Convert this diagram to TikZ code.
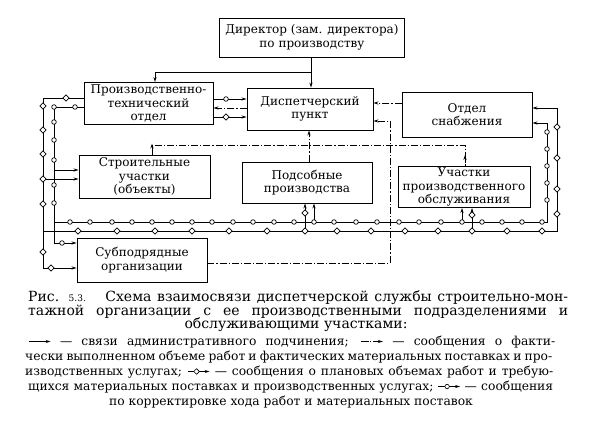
\documentclass[tikz,border=0pt]{standalone}
\usepackage{fontspec}
\setmainfont{DejaVu Serif}
\usetikzlibrary{arrows.meta,calc}
\tikzset{
  box/.style={draw, line width=0.9pt, inner sep=0pt, align=center, font=\fontsize{12}{13.5}\selectfont},
  ln/.style={line width=0.8pt},
  arr/.style={-{Stealth[length=5pt,width=3.2pt]}},
  dd/.style={dash pattern=on 7pt off 2pt on 1.2pt off 2pt},
  mk/.style={line width=0.7pt, fill=white},
  capline/.style={inner sep=0pt, anchor=base west, font=\fontsize{14}{15}\selectfont},
  legline/.style={inner sep=0pt, anchor=base west, font=\fontsize{12.3}{13.5}\selectfont},
}
\newcommand\dmk[2]{\draw[mk] (#1,#2) +(-3.2pt,0pt) -- +(0pt,3.2pt) -- +(3.2pt,0pt) -- +(0pt,-3.2pt) -- cycle;}
\newcommand\cmk[2]{\draw[mk] (#1,#2) circle[radius=2.3pt];}
\newcommand\symA{\tikz[baseline=-3.5pt]{\draw[line width=0.7pt,-{Stealth[length=5pt,width=3pt]}] (0pt,0pt) -- (22pt,0pt);}}
\newcommand\symB{\tikz[baseline=-3.5pt]{\draw[line width=0.7pt,dash pattern=on 8pt off 1.5pt on 1pt off 1.5pt,-{Stealth[length=5pt,width=3pt]}] (0pt,0pt) -- (22pt,0pt);}}
\newcommand\symC{\tikz[baseline=-3.5pt]{\draw[line width=0.7pt,-{Stealth[length=5pt,width=3pt]}] (0pt,0pt) -- (22pt,0pt); \draw[line width=0.6pt,fill=white] (9pt,0pt) +(-2.8pt,0pt) -- +(0pt,2.8pt) -- +(2.8pt,0pt) -- +(0pt,-2.8pt) -- cycle;}}
\newcommand\symD{\tikz[baseline=-3.5pt]{\draw[line width=0.7pt,-{Stealth[length=5pt,width=3pt]}] (0pt,0pt) -- (22pt,0pt); \draw[line width=0.6pt,fill=white] (9pt,0pt) circle[radius=2.2pt];}}
\begin{document}
\begin{tikzpicture}[x=1pt,y=-1pt]
\useasboundingbox (0,0) rectangle (608,436);
% boxes
\node[box, minimum width=185pt, minimum height=39pt] (dir) at (312,37.5) {Директор (зам. директора)\\по производству};
\node[box, minimum width=129pt, minimum height=42pt] (pto) at (148.5,103.5) {Производственно-\\технический\\отдел};
\node[box, minimum width=126pt, minimum height=42pt] (disp) at (310,109) {Диспетчерский\\пункт};
\node[box, minimum width=130pt, minimum height=45pt] (snab) at (467,114.5) {Отдел\\снабжения};
\node[box, minimum width=131pt, minimum height=43pt] (stroi) at (144.5,176.5) {Строительные\\участки\\(объекты)};
\node[box, minimum width=130pt, minimum height=41pt] (podsob) at (307,182.5) {Подсобные\\производства};
\node[box, minimum width=132pt, minimum height=41pt] (obsl) at (464,187) {Участки\\производственного\\обслуживания};
\node[box, minimum width=130pt, minimum height=44pt] (subp) at (142,260) {Субподрядные\\организации};
% coordinates
\coordinate (d1) at (311,72);
\coordinate (d2) at (155,72);
\coordinate (a1) at (230,99);
\coordinate (a2) at (230,108);
\coordinate (a3) at (230,117);
\coordinate (s1) at (390,103);
\coordinate (u1) at (390,263);
\coordinate (u2) at (390,121);
\coordinate (p1) at (309,150);
\coordinate (h1) at (152,145);
\coordinate (h2) at (465,145);
\coordinate (Lo1) at (43,98);
\coordinate (Lo2) at (43,268);
\coordinate (Lo3) at (43,179);
\coordinate (Li1) at (54,107);
\coordinate (Li2) at (54,243);
\coordinate (Li3) at (54,170);
\coordinate (Bo1) at (43,231);
\coordinate (Bo2) at (557,231);
\coordinate (Bo3) at (557,108);
\coordinate (Bi1) at (54,222);
\coordinate (Bi2) at (547,222);
\coordinate (Bi3) at (547,123);
\coordinate (Po1) at (305,231);
\coordinate (Pi1) at (314,222);
\coordinate (Oi1) at (462,222);
\coordinate (Oo1) at (472,231);
% administrative
\draw[ln,arr] (d1 |- dir.south) -- (d1 |- disp.north);
\draw[ln,arr] (d1) -- (d2) -- (d2 |- pto.north);
% pto <-> disp
\draw[ln,arr] (a1 -| pto.east) -- (a1 -| disp.west);
\draw[ln,dd,arr] (a2 -| disp.west) -- (a2 -| pto.east);
\draw[ln,arr] (a3 -| pto.east) -- (a3 -| disp.west);
\cmk{226}{99}
\dmk{226}{117}
% dash-dot fact messages
\draw[ln,dd,arr] (s1 -| snab.west) -- (s1 -| disp.east);
\draw[ln,dd,arr] (u1 -| subp.east) -- (u1) -- (u2) -- (u2 -| disp.east);
\draw[ln,dd,arr] (p1 |- podsob.north) -- (p1 |- disp.south);
\draw[ln,dd] (h1 |- stroi.north) -- (h1) -- (h2) -- (h2 |- obsl.north);
\draw[ln,arr] ($(h1 |- stroi.north)+(0,-3)$) -- ($(h1 |- stroi.north)+(0,-11)$);
\draw[ln,arr] ($(h2 |- obsl.north)+(0,-3)$) -- ($(h2 |- obsl.north)+(0,-11)$);
% left outer (diamond) line
\draw[ln,arr] (Lo1 -| pto.west) -- (Lo1) -- (Lo2) -- (Lo2 -| subp.west);
\draw[ln,arr] (Lo3) -- (Lo3 -| stroi.west);
\draw[ln,arr] (Bo1) -- (Bo2) -- (Bo3) -- (Bo3 -| snab.east);
% left inner (circle) line
\draw[ln,arr] (Li1 -| pto.west) -- (Li1) -- (Li2) -- (Li2 -| subp.west);
\draw[ln,arr] (Li3) -- (Li3 -| stroi.west);
\draw[ln,arr] (Bi1) -- (Bi2) -- (Bi3) -- (Bi3 -| snab.east);
% branches to podsob and obsl
\draw[ln,arr] (Po1) -- (Po1 |- podsob.south);
\draw[ln,arr] (Pi1) -- (Pi1 |- podsob.south);
\draw[ln,arr] (Oi1) -- (Oi1 |- obsl.south);
\draw[ln,arr] (Oo1) -- (Oo1 |- obsl.south);
% markers
\foreach \x in {70,90,112,132,152,172,192,212,233,253,274,294,314,334,356,377,399,419,441,462,482,502,522,542} {\cmk{\x}{222}}
\foreach \x in {78,117,155,192,229,267,305,337,371,405,438,472,507,542} {\dmk{\x}{231}}
\foreach \y in {106,130,154,179,204,252} {\dmk{43}{\y}}
\foreach \y in {107,122,140,160,185,203} {\cmk{54}{\y}}
\foreach \y in {132,149,166,183,200} {\cmk{547}{\y}}
\foreach \y in {127,158,189,214} {\dmk{557}{\y}}
\dmk{66}{98}
\cmk{75}{107}
\dmk{51}{268}
\cmk{62}{243}
\dmk{305}{213}
\dmk{472}{215}
% caption
\node[capline] (c1) at (28,301) {\makebox[540pt][s]{Рис. {\fontsize{9}{10}\selectfont 5.3.}\hspace{10pt} Схема взаимосвязи диспетчерской службы строительно-мон-}};
\node[capline] (c2) at (28,315) {\makebox[540pt][s]{тажной организации с ее производственными подразделениями и}};
\node[capline, anchor=base] (c3) at (296,328.5) {обслуживающими участками:};
\node[legline] (l1) at (28,345) {\makebox[527pt][s]{\symA{} — связи административного подчинения; \symB{} — сообщения о факти-}};
\node[legline] (l2) at (25,360) {\makebox[527pt][s]{чески выполненном объеме работ и фактических материальных поставках и про-}};
\node[legline] (l3) at (25,375) {\makebox[528pt][s]{изводственных услугах; \symC{} — сообщения о плановых объемах работ и требую-}};
\node[legline] (l4) at (28,390) {\makebox[525pt][s]{щихся материальных поставках и производственных услугах; \symD{} — сообщения}};
\node[legline, anchor=base] (l5) at (291,405) {по корректировке хода работ и материальных поставок};
\end{tikzpicture}
\end{document}
